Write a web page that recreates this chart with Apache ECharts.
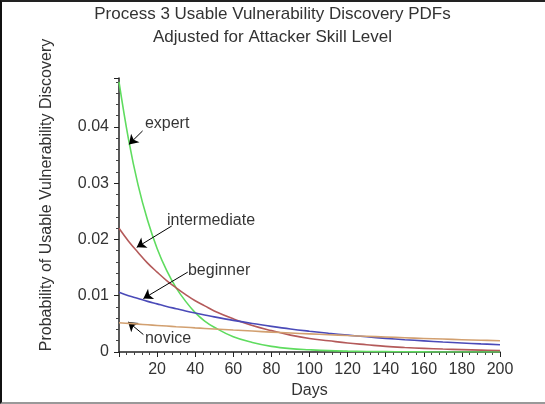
<!DOCTYPE html>
<html>
<head>
<meta charset="utf-8">
<script src="https://cdn.jsdelivr.net/npm/echarts@6/dist/echarts.min.js"></script>
<style>
html,body{margin:0;padding:0;background:#fff;}
#wrap{position:relative;width:545px;height:404px;}
#chart{position:absolute;left:0;top:0;width:545px;height:404px;}
#frame{position:absolute;left:0;top:0;width:545px;height:404px;box-sizing:border-box;border-left:2px solid #111;border-top:2px solid #222;border-bottom:2px solid #999;pointer-events:none;}
</style>
</head>
<body>
<div id="wrap"><div id="chart"></div><div id="frame"></div></div>
<script>
const titleLines = ['Process 3 Usable Vulnerability Discovery PDFs', 'Adjusted for Attacker Skill Level'];
const xAxisName = 'Days';
const yAxisName = 'Probability of Usable Vulnerability Discovery';
const days = [0,5,10,15,20,25,30,35,40,45,50,60,70,80,90,100,110,120,130,140,150,160,170,180,190,200];
const expert = [0.0480,0.0378,0.0297,0.0234,0.0184,0.0145,0.0114,0.0090,0.0070,0.0055,0.0044,0.0027,0.0017,0.0010,0.0006,0.0004,0.00024,0.00015,0.00009,0.00006,0.00004,0.00002,0.00001,0.00001,0,0];
const intermediate = [0.0220,0.0197,0.0177,0.0158,0.0142,0.0127,0.0114,0.0102,0.0091,0.0082,0.0073,0.0059,0.0047,0.0038,0.0030,0.0024,0.0020,0.0016,0.0013,0.0010,0.0008,0.00065,0.00052,0.00042,0.00034,0.00027];
const beginner = [0.0106,0.0100,0.00950,0.00900,0.00855,0.00810,0.00770,0.00730,0.00693,0.00658,0.00624,0.00562,0.00506,0.00456,0.00410,0.00370,0.00333,0.00300,0.00270,0.00243,0.00219,0.00197,0.00177,0.00160,0.00144,0.00130];
const novice = [0.00520,0.00508,0.00496,0.00484,0.00472,0.00461,0.00450,0.00440,0.00429,0.00419,0.00409,0.00390,0.00372,0.00354,0.00338,0.00322,0.00307,0.00292,0.00279,0.00266,0.00253,0.00241,0.00230,0.00219,0.00209,0.00199];
const seriesNames = ['expert','intermediate','beginner','novice'];
const seriesColors = ['#5fdc5f','#b45a5a','#4a4ab8','#d2a070'];
// annotation text anchors [day, value] and arrows [tail, head]
const labelNames = ['expert','intermediate','beginner','novice'];
const labelPos = [[13.6,0.0406],[25.2,0.0234],[36.2,0.0145],[13.6,0.0023]];
const arrowTail = [[12.4,0.0393],[27.7,0.0224],[36.1,0.0142],[12.8,0.0031]];
const arrowHead = [[5.2,0.0369],[9.3,0.0186],[12.8,0.0095],[4.8,0.00535]];

const FONT = "'Liberation Sans', Arial, sans-serif";
const allData = [expert, intermediate, beginner, novice];
const lineSeries = allData.map((vals, i) => ({
  name: seriesNames[i],
  type: 'line',
  data: days.map((d, j) => [d, vals[j]]),
  showSymbol: false,
  smooth: 0.4,
  lineStyle: {color: seriesColors[i], width: 1.6},
  itemStyle: {color: seriesColors[i]},
  z: 2 + i,
  silent: true
}));

const option = {
  animation: false,
  title: {
    text: titleLines.join('\n'),
    left: 'center',
    top: 3,
    padding: 0,
    textStyle: {fontFamily: FONT, fontSize: 17, fontWeight: 'normal', color: '#333', lineHeight: 23}
  },
  grid: {left: 119, right: 45, top: 78, bottom: 50, containLabel: false},
  xAxis: {
    type: 'value', min: 0, max: 200, interval: 20,
    name: xAxisName, nameLocation: 'middle', nameGap: 31,
    nameTextStyle: {fontFamily: FONT, fontSize: 16, color: '#333'},
    axisLine: {show: true, onZero: false, lineStyle: {color: '#222', width: 1.5}},
    axisTick: {show: true, length: 5, lineStyle: {color: '#222'}},
    minorTick: {show: true, splitNumber: 5, length: 3, lineStyle: {color: '#444'}},
    splitLine: {show: false},
    axisLabel: {showMinLabel: false, fontFamily: FONT, fontSize: 16, color: '#333', margin: 10}
  },
  yAxis: {
    type: 'value', min: 0, max: 0.0487, interval: 0.01,
    name: yAxisName, nameLocation: 'middle', nameGap: 64, nameRotate: 90,
    nameTextStyle: {fontFamily: FONT, fontSize: 16, color: '#333', padding: [0, 0, 0, 40]},
    axisLine: {show: true, onZero: false, lineStyle: {color: '#222', width: 1.5}},
    axisTick: {show: true, length: 5, lineStyle: {color: '#222'}},
    minorTick: {show: true, splitNumber: 5, length: 3, lineStyle: {color: '#444'}},
    splitLine: {show: false},
    axisLabel: {showMaxLabel: false, fontFamily: FONT, fontSize: 16, color: '#333', margin: 10,
      formatter: v => v === 0 ? '0' : v.toFixed(2)}
  },
  series: lineSeries.concat([
    {
      name: 'annotations',
      type: 'scatter',
      symbolSize: 0,
      silent: true,
      z: 10,
      data: labelPos.map((p, i) => ({value: p, name: labelNames[i]})),
      label: {show: true, position: 'right', distance: 0, formatter: p => p.name,
        fontFamily: FONT, fontSize: 16, color: '#000'},
      markLine: {
        silent: true,
        symbol: ['none', 'arrow'],
        symbolSize: 9,
        lineStyle: {color: '#000', width: 1, type: 'solid'},
        itemStyle: {color: '#000'},
        label: {show: false},
        data: arrowTail.map((t, i) => [{coord: t}, {coord: arrowHead[i]}])
      }
    }
  ])
};
const chart = echarts.init(document.getElementById('chart'), null, {renderer: 'canvas'});
chart.setOption(option);
</script>
</body>
</html>
